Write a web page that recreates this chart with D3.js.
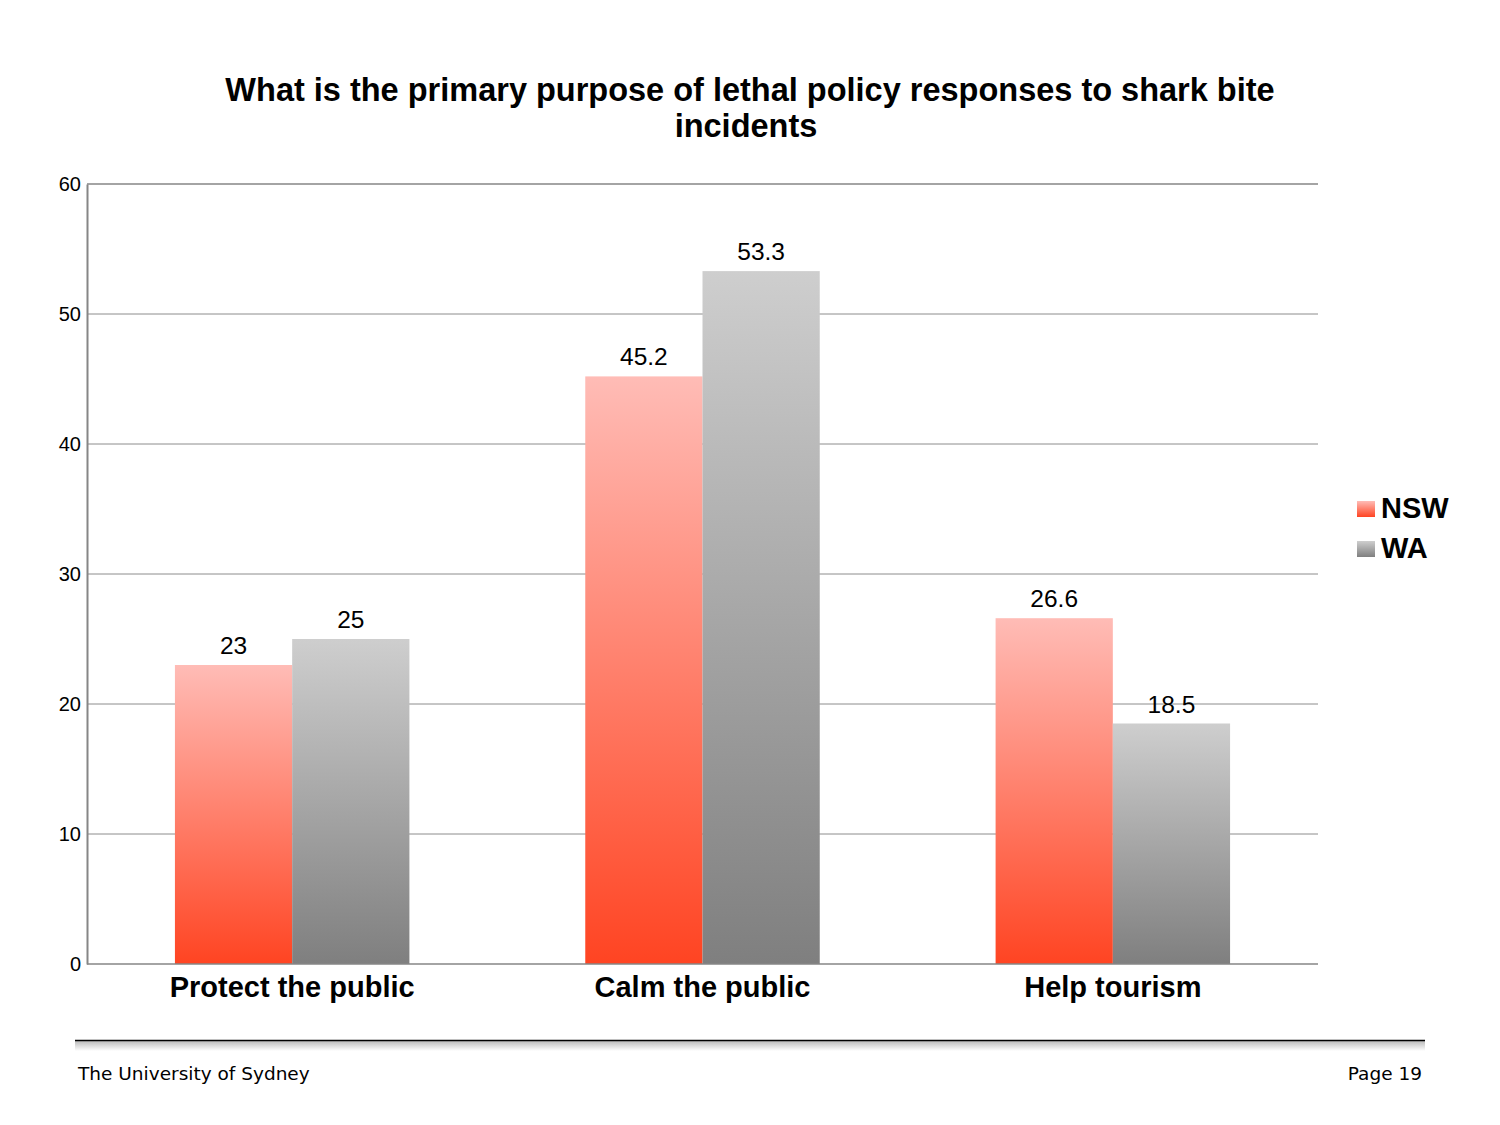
<!DOCTYPE html>
<html><head><meta charset="utf-8">
<script src="https://cdn.jsdelivr.net/npm/d3@7"></script>
<style>body{margin:0;background:#fff}</style>
</head><body>
<script>
const categories = ["Protect the public", "Calm the public", "Help tourism"];
const seriesNames = ["NSW", "WA"];
const nswValues = [23, 45.2, 26.6];
const waValues = [25, 53.3, 18.5];
const yTicks = [0, 10, 20, 30, 40, 50, 60];

(function(){
const W = 1500, H = 1125;
const svg = d3.select("body").append("svg").attr("width", W).attr("height", H);
const defs = svg.append("defs");
const grads = [
  {id: "gNSW", c0: "#ffbcb6", c1: "#ff4422"},
  {id: "gWA", c0: "#cecece", c1: "#7f7f7f"}
];
grads.forEach(g => {
  const lg = defs.append("linearGradient").attr("id", g.id).attr("x1", 0).attr("y1", 0).attr("x2", 0).attr("y2", 1);
  lg.append("stop").attr("offset", "0%").attr("stop-color", g.c0);
  lg.append("stop").attr("offset", "100%").attr("stop-color", g.c1);
});
const sh = defs.append("linearGradient").attr("id", "shadow").attr("x1", 0).attr("y1", 0).attr("x2", 0).attr("y2", 1);
sh.append("stop").attr("offset", "0%").attr("stop-color", "#bbb");
sh.append("stop").attr("offset", "100%").attr("stop-color", "#fff");

const pL = 87, pR = 1318, pT = 184, pB = 964;
const x = d3.scaleBand().domain(categories).range([pL, pR]);
const inner = d3.scaleBand().domain(seriesNames).range([0, x.bandwidth()]).paddingInner(0).paddingOuter(0.75);
const y = d3.scaleLinear().domain([0, 60]).range([pB, pT]);
const FONT = "Liberation Sans, Arial, sans-serif";

// title
svg.append("text").attr("x", 750).attr("y", 101).attr("text-anchor", "middle")
  .attr("font-family", FONT).attr("font-weight", "bold").attr("font-size", 32.5)
  .text("What is the primary purpose of lethal policy responses to shark bite");
svg.append("text").attr("x", 746).attr("y", 137).attr("text-anchor", "middle")
  .attr("font-family", FONT).attr("font-weight", "bold").attr("font-size", 32.5)
  .text("incidents");

// gridlines
svg.append("g").selectAll("line").data(yTicks.filter(d => d > 0)).join("line")
  .attr("x1", pL).attr("x2", pR).attr("y1", d => y(d)).attr("y2", d => y(d))
  .attr("stroke", d => d === 60 ? "#868686" : "#8c8c8c").attr("stroke-width", d => d === 60 ? 1.5 : 1);

// y axis
const yAxis = svg.append("g").attr("transform", `translate(${pL},0)`)
  .call(d3.axisLeft(y).tickValues(yTicks).tickSize(0).tickPadding(6));
yAxis.select(".domain").attr("stroke", "#868686").attr("stroke-width", 2);
yAxis.selectAll("text").attr("font-family", FONT).attr("font-size", 20).attr("fill", "#000");

// bars
const data = categories.map((c, i) => ({c, vals: [{s: "NSW", v: nswValues[i]}, {s: "WA", v: waValues[i]}]}));
const groups = svg.append("g").selectAll("g").data(data).join("g")
  .attr("transform", d => `translate(${x(d.c)},0)`);
groups.selectAll("rect").data(d => d.vals).join("rect")
  .attr("x", d => inner(d.s)).attr("width", inner.bandwidth())
  .attr("y", d => y(d.v)).attr("height", d => y(0) - y(d.v))
  .attr("fill", d => d.s === "NSW" ? "url(#gNSW)" : "url(#gWA)");
groups.selectAll("text").data(d => d.vals).join("text")
  .attr("x", d => inner(d.s) + inner.bandwidth() / 2).attr("y", d => y(d.v) - 11)
  .attr("text-anchor", "middle").attr("font-family", FONT).attr("font-size", 24.5)
  .text(d => d.v);

// x axis
svg.append("line").attr("x1", pL).attr("x2", pR).attr("y1", pB).attr("y2", pB)
  .attr("stroke", "#868686").attr("stroke-width", 1.5);
const xAxis = svg.append("g").attr("transform", `translate(0,${pB})`)
  .call(d3.axisBottom(x).tickSize(0).tickPadding(12));
xAxis.select(".domain").remove();
xAxis.selectAll("text").attr("font-family", FONT).attr("font-weight", "bold")
  .attr("font-size", 29).attr("fill", "#000");

// legend
const leg = svg.append("g").selectAll("g").data(seriesNames).join("g")
  .attr("transform", (d, i) => `translate(1357,${518 + i * 40})`);
leg.append("rect").attr("x", 0).attr("y", -17).attr("width", 18).attr("height", 16)
  .attr("fill", d => d === "NSW" ? "url(#gNSW)" : "url(#gWA)");
leg.append("text").attr("x", 24).attr("y", 0).attr("font-family", FONT)
  .attr("font-weight", "bold").attr("font-size", 29).text(d => d);

// footer
svg.append("rect").attr("x", 75).attr("y", 1041).attr("width", 1350).attr("height", 10).attr("fill", "url(#shadow)");
svg.append("line").attr("x1", 75).attr("x2", 1425).attr("y1", 1040.5).attr("y2", 1040.5).attr("stroke", "#000").attr("stroke-width", 1.5);
svg.append("text").attr("x", 78).attr("y", 1080).attr("font-family", "DejaVu Sans, sans-serif").attr("font-size", 18.5).text("The University of Sydney");
svg.append("text").attr("x", 1422).attr("y", 1080).attr("text-anchor", "end").attr("font-family", "DejaVu Sans, sans-serif").attr("font-size", 18.5).text("Page 19");
})();
</script>
</body></html>
